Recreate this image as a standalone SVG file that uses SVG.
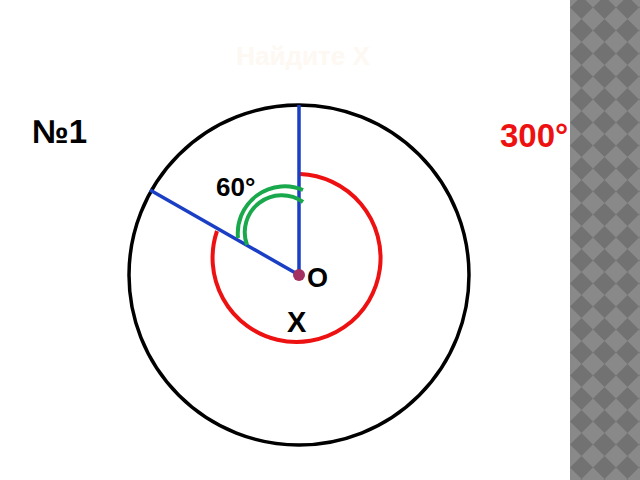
<svg xmlns="http://www.w3.org/2000/svg" width="640" height="480" viewBox="0 0 640 480">
  <defs>
    <pattern id="checks" x="570" y="-4" width="23" height="23" patternUnits="userSpaceOnUse">
      <rect width="23" height="23" fill="#898989"/>
      <polygon points="11.5,0 23,11.5 11.5,23 0,11.5" fill="#727272"/>
    </pattern>
    <style>
      .txt { font-family: "Liberation Sans", Arial, sans-serif; font-weight: bold; }
      .blue { stroke: #1a3fc4; stroke-width: 3.5; fill: none; stroke-linecap: butt; }
      .green { stroke: #1aa84c; stroke-width: 4; fill: none; }
    </style>
  </defs>
  <rect width="640" height="480" fill="#ffffff"/>
  <rect x="570" y="0" width="70" height="480" fill="url(#checks)"/>

  <text class="txt" x="303" y="65" font-size="26" fill="#fdf8f2" text-anchor="middle">Найдите Х</text>

  <g id="circle-outer">
    <circle cx="299" cy="275" r="170" fill="none" stroke="#000000" stroke-width="3.5"/>
  </g>
  <g id="arc-x">
    <path d="M300,174 A84,84 0 1 1 217,231" fill="none" stroke="#ee1111" stroke-width="4"/>
  </g>
  <g id="connectors">
    <line class="blue" x1="299" y1="275" x2="299" y2="105"/>
    <line class="blue" x1="299" y1="275" x2="150" y2="190"/>
  </g>
  <g id="angle-60">
    <path class="green" d="M303,190 A47,47 0 0 0 238,238"/>
    <path class="green" d="M303,202 A37,37 0 0 0 247,245"/>
  </g>
  <g id="point-O">
    <circle cx="299" cy="275" r="6" fill="#a33060"/>
  </g>

  <g id="labels">
    <text class="txt" x="32" y="143" font-size="33" fill="#000000">№1</text>
    <text class="txt" x="500" y="147" font-size="33" fill="#ee1111">300°</text>
    <text class="txt" x="216" y="196" font-size="26" fill="#000000">60°</text>
    <text class="txt" x="307" y="287" font-size="27" fill="#000000">O</text>
    <text class="txt" x="287" y="332" font-size="29" fill="#000000">Х</text>
  </g>
</svg>
